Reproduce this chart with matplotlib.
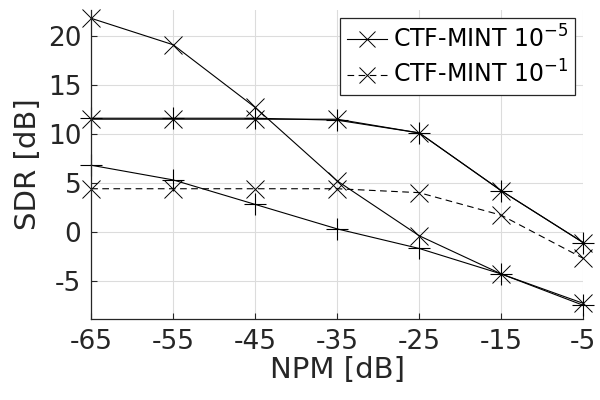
import matplotlib
matplotlib.use("Agg")
import matplotlib.pyplot as plt

# Données
npm = [-65, -55, -45, -35, -25, -15, -5]

# CTF-MINT 10^-5 (trait plein, croix) : deux courbes
sdr_a = [21.8, 19.1, 12.7, 5.2, -0.4, -4.3, -7.3]
sdr_b = [11.5, 11.5, 11.5, 11.5, 10.1, 4.2, -1.1]
# CTF-MINT 10^-1 (pointillés, croix)
sdr_c = [4.4, 4.4, 4.4, 4.4, 4.0, 1.7, -2.7]
# Courbes de référence (trait plein, plus)
sdr_d = [6.8, 5.3, 2.8, 0.3, -1.7, -4.3, -7.5]
sdr_e = [11.6, 11.6, 11.6, 11.4, 10.1, 4.2, -1.1]

xticks = [-65, -55, -45, -35, -25, -15, -5]
yticks = [-5, 0, 5, 10, 15, 20]

plt.rcParams['font.family'] = ['DejaVu Sans']
plt.rcParams['mathtext.default'] = 'regular'
texte = '#262626'

fig = plt.figure(figsize=(6, 4), dpi=100)
ax = fig.add_axes([0.152, 0.2025, 0.82, 0.7725])

style_x = dict(color='black', lw=0.8, marker='x', markersize=13,
               markeredgewidth=0.7, clip_on=False)
style_p = dict(color='black', lw=0.8, marker='+', markersize=16,
               markeredgewidth=0.8, clip_on=False)

ax.plot(npm, sdr_e, '-', **style_p)
ax.plot(npm, sdr_d, '-', **style_p)
l1, = ax.plot(npm, sdr_a, '-', label='CTF-MINT 10$^{-5}$', **style_x)
ax.plot(npm, sdr_b, '-', **style_x)
l2, = ax.plot(npm, sdr_c, '--', dashes=(6, 4), label='CTF-MINT 10$^{-1}$', **style_x)

ax.set_xlim(-65, -5)
ax.set_ylim(-8.9, 22.65)
ax.set_xticks(xticks)
ax.set_yticks(yticks)
ax.set_xticklabels([str(t) for t in xticks])
ax.set_yticklabels([str(t) for t in yticks])
ax.tick_params(direction='in', length=4, width=0.8, labelsize=19,
               colors=texte, pad=7)
ax.grid(True, color='#dcdcdc', lw=0.8)
ax.set_axisbelow(True)
for cote in ['top', 'right']:
    ax.spines[cote].set_visible(False)
for cote in ['left', 'bottom']:
    ax.spines[cote].set_color(texte)
    ax.spines[cote].set_linewidth(0.9)

ax.set_xlabel('NPM [dB]', fontsize=21, color=texte, labelpad=1)
ax.set_ylabel('SDR [dB]', fontsize=21, color=texte, labelpad=4)

leg = ax.legend(handles=[l1, l2], loc='upper right', fontsize=17,
                frameon=True, fancybox=False, framealpha=1,
                edgecolor=texte, handlelength=1.7, handletextpad=0.25,
                borderpad=0.3, labelspacing=0.35, borderaxespad=0.35,
                markerscale=0.9)
leg.get_frame().set_linewidth(0.9)
for t in leg.get_texts():
    t.set_color('black')

fig.savefig('out.png', dpi=100)
